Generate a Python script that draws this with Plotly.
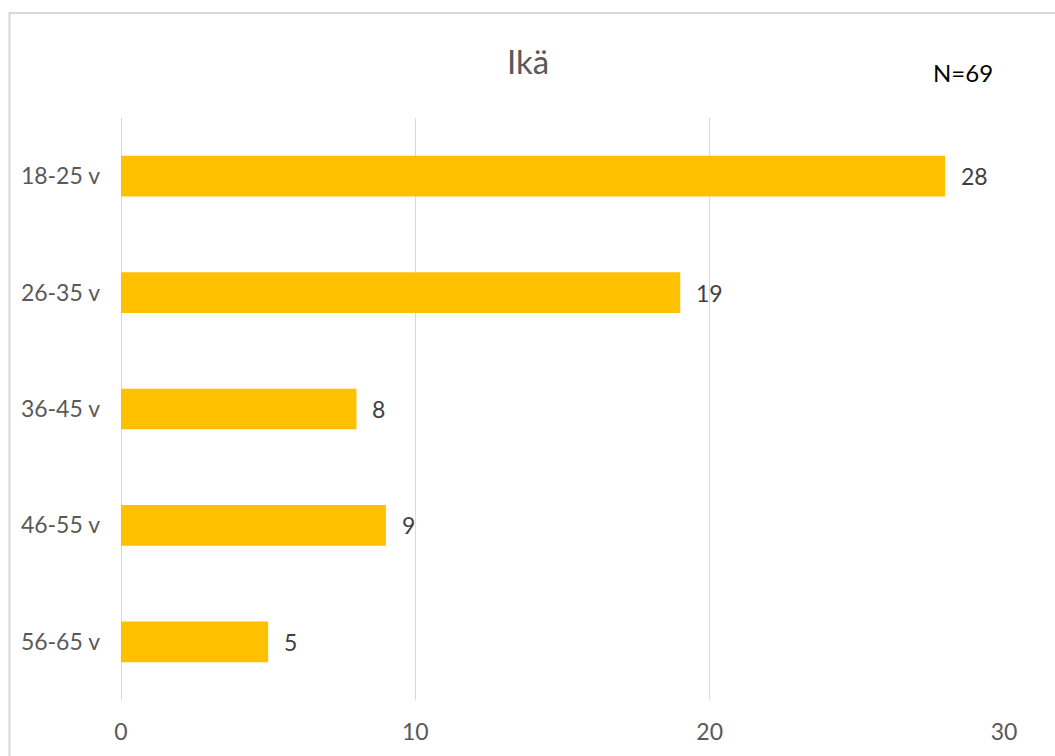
import plotly.graph_objects as go

categories = ["18-25 v", "26-35 v", "36-45 v", "46-55 v", "56-65 v"]
values = [28, 19, 8, 9, 5]
x_ticks = [0, 10, 20, 30]
title_text = "Ikä"
note_text = "N=69"

W, H = 1055, 756
L, R, T, B = 121, 51, 118, 56
pw, ph = W - L - R, H - T - B

def px_x(p):
    return (p - L) / pw

def px_y(p):
    return (H - B - p) / ph

font_family = "Lato, 'Open Sans', sans-serif"

fig = go.Figure(go.Bar(
    x=values, y=categories, orientation="h",
    marker=dict(color="#FFC000", line=dict(width=0)),
    width=0.35,
    hoverinfo="x+y",
))

annotations = [
    dict(x=v, y=c, xref="x", yref="y", text=str(v), showarrow=False,
         xanchor="left", yanchor="middle", xshift=14,
         font=dict(size=23, color="#404040", family=font_family))
    for c, v in zip(categories, values)
]
annotations += [
    dict(text=title_text, x=px_x(528), y=px_y(61), xref="paper", yref="paper",
         showarrow=False, font=dict(size=33, color="#595959", family=font_family),
         xanchor="center", yanchor="middle"),
    dict(text=note_text, x=px_x(963), y=px_y(72), xref="paper", yref="paper",
         showarrow=False, font=dict(size=24, color="#000000", family=font_family),
         xanchor="center", yanchor="middle"),
]

fig.update_layout(
    width=W, height=H,
    margin=dict(l=L, r=R, t=T, b=B),
    paper_bgcolor="white", plot_bgcolor="white",
    showlegend=False,
    font=dict(family=font_family, color="#595959"),
    xaxis=dict(range=[0, 30], tickvals=x_ticks, showgrid=True, gridcolor="#D9D9D9",
               gridwidth=1, zeroline=True, zerolinecolor="#D9D9D9", zerolinewidth=1,
               showline=False, tickfont=dict(size=23, color="#595959"),
               ticks="", ticklen=0, ticklabelstandoff=16),
    yaxis=dict(autorange="reversed", showgrid=False, zeroline=False, showline=False,
               tickfont=dict(size=23, color="#595959"), ticks="",
               ticklabelstandoff=20),
    annotations=annotations,
    shapes=[
        dict(type="rect", xref="paper", yref="paper",
             x0=px_x(9.5), x1=px_x(1070), y0=px_y(770), y1=px_y(13),
             line=dict(color="#D9D9D9", width=2), fillcolor="rgba(0,0,0,0)", layer="below"),
    ],
)

fig.write_html("out.html")
